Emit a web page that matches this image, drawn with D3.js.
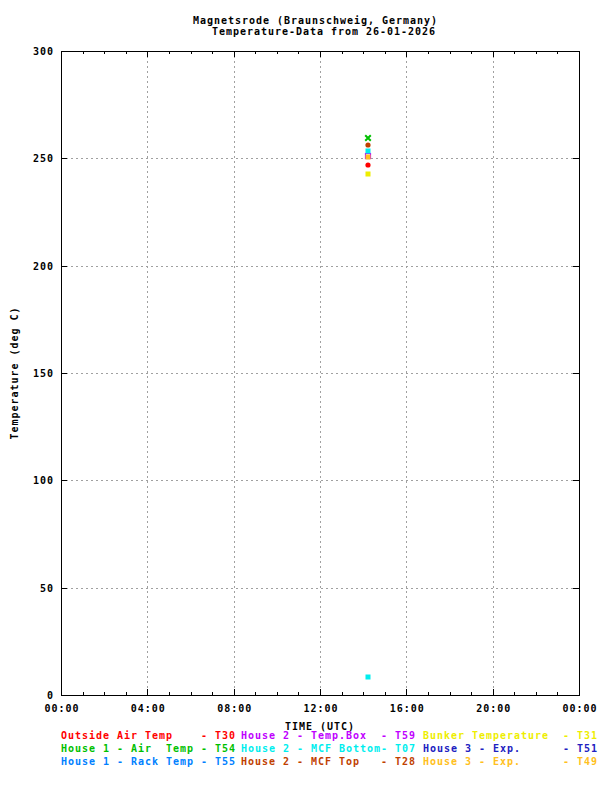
<!DOCTYPE html>
<html><head><meta charset="utf-8">
<script src="https://cdn.jsdelivr.net/npm/d3@7"></script>
<style>
html,body{margin:0;padding:0;background:#fff;}
text{font-family:"DejaVu Sans Mono",monospace;font-weight:bold;font-size:10px;letter-spacing:0.98px;white-space:pre;}
</style></head>
<body><svg id="c" width="600" height="800"></svg>
<script>
// ---- data ----
const titleLines = ["Magnetsrode (Braunschweig, Germany)", "Temperature-Data from 26-01-2026"];
const yTicks = [0, 50, 100, 150, 200, 250, 300];
const xTickHours = [0, 4, 8, 12, 16, 20, 24];
const xTickLabels = ["00:00", "04:00", "08:00", "12:00", "16:00", "20:00", "00:00"];
const seriesNames = ["Outside Air Temp", "House 1 - Air  Temp", "House 1 - Rack Temp",
  "House 2 - Temp.Box", "House 2 - MCF Bottom", "House 2 - MCF Top",
  "Bunker Temperature", "House 3 - Exp.", "House 3 - Exp.", ""];
const seriesCodes = ["T30", "T54", "T55", "T59", "T07", "T28", "T31", "T51", "T49", ""];
const seriesColors = ["#ff0000", "#00c000", "#0080ff", "#c000ff", "#00eeee", "#c04000",
  "#eeee00", "#2020c0", "#ffc020", "#00eeee"];
const seriesSymbols = ["circle", "cross", "square", "openSquare", "square", "circle",
  "square", "square", "square", "square"];
const seriesTimes = [14.22, 14.22, 14.22, 14.22, 14.22, 14.22, 14.22, 14.22, 14.22, 14.22];
const seriesValues = [247.1, 259.3, null, 251.3, 253.2, 256.0, 242.5, null, 250.7, 8.3];

// ---- layout ----
const svg = d3.select("#c");
const L = 61, R = 579, T = 51, B = 695;
const x = d3.scaleLinear().domain([0, 24]).range([L, R]);
const y = d3.scaleLinear().domain([0, 300]).range([B, T]);

// title
svg.append("text").attr("x", 193).attr("y", 23.5).text(titleLines[0]);
svg.append("text").attr("x", 212).attr("y", 34.5).text(titleLines[1]);

// grid
const grid = svg.append("g").attr("stroke", "#a0a0a0").attr("stroke-width", 1).attr("stroke-dasharray", "2,3");
yTicks.filter(v => v > 0 && v < 300).forEach(v => {
  grid.append("line").attr("x1", L).attr("x2", R).attr("y1", Math.round(y(v)) + 0.5).attr("y2", Math.round(y(v)) + 0.5);
});
xTickHours.filter(h => h > 0 && h < 24).forEach(h => {
  grid.append("line").attr("y1", T).attr("y2", B).attr("x1", Math.round(x(h)) + 0.5).attr("x2", Math.round(x(h)) + 0.5);
});

// ticks
const tk = svg.append("g").attr("stroke", "#000").attr("stroke-width", 1);
yTicks.forEach(v => {
  const yy = Math.round(y(v)) + 0.5;
  tk.append("line").attr("x1", L).attr("x2", L + 6).attr("y1", yy).attr("y2", yy);
  tk.append("line").attr("x1", R - 6).attr("x2", R).attr("y1", yy).attr("y2", yy);
});
d3.range(0, 25).forEach(h => {
  const xx = Math.round(x(h)) + 0.5;
  const len = (h % 4 === 0) ? 6 : 3;
  tk.append("line").attr("x1", xx).attr("x2", xx).attr("y1", B).attr("y2", B - len);
  tk.append("line").attr("x1", xx).attr("x2", xx).attr("y1", T).attr("y2", T + len);
});

// border
svg.append("rect").attr("x", L + 0.5).attr("y", T + 0.5).attr("width", R - L).attr("height", B - T)
  .attr("fill", "none").attr("stroke", "#000").attr("stroke-width", 1);

// tick labels
yTicks.forEach(v => {
  svg.append("text").attr("x", 54).attr("y", y(v) + 4).attr("text-anchor", "end").text(String(v));
});
xTickHours.forEach((h, i) => {
  svg.append("text").attr("x", x(h) + 1).attr("y", 712).attr("text-anchor", "middle").text(xTickLabels[i]);
});

// axis titles
svg.append("text").attr("transform", "translate(18," + ((T + B) / 2) + ") rotate(-90)")
  .attr("text-anchor", "middle").text("Temperature (deg C)");

// points
const pts = svg.append("g");
seriesValues.forEach((v, i) => {
  if (v === null) return;
  const cx = Math.round(x(seriesTimes[i])), cy = Math.round(y(v));
  const c = seriesColors[i], s = seriesSymbols[i];
  if (s === "circle") {
    pts.append("circle").attr("cx", cx).attr("cy", cy).attr("r", 2.6).attr("fill", c);
  } else if (s === "square") {
    pts.append("rect").attr("x", cx - 2.5).attr("y", cy - 2.5).attr("width", 5).attr("height", 5).attr("fill", c);
  } else if (s === "openSquare") {
    pts.append("rect").attr("x", cx - 2.5).attr("y", cy - 2.5).attr("width", 5).attr("height", 5)
      .attr("fill", "none").attr("stroke", c).attr("stroke-width", 1.2);
  } else if (s === "cross") {
    pts.append("path").attr("d", d3.symbol().type(d3.symbolX).size(22)()).attr("transform", "translate(" + cx + "," + cy + ")")
      .attr("stroke", c).attr("stroke-width", 2).attr("fill", "none");
  }
});

svg.append("text").attr("x", 285).attr("y", 730).text("TIME (UTC)");

// legend
const colX = [61, 241, 423];
const rowY = [739, 752, 765];
seriesNames.forEach((n, i) => {
  if (!seriesCodes[i]) return;
  const col = Math.floor(i / 3), row = i % 3;
  const label = (n.length >= 20 ? n : n.padEnd(20, " ")) + "- " + seriesCodes[i];
  svg.append("text").attr("x", colX[col]).attr("y", rowY[row]).attr("fill", seriesColors[i]).text(label);
});
</script></body></html>
